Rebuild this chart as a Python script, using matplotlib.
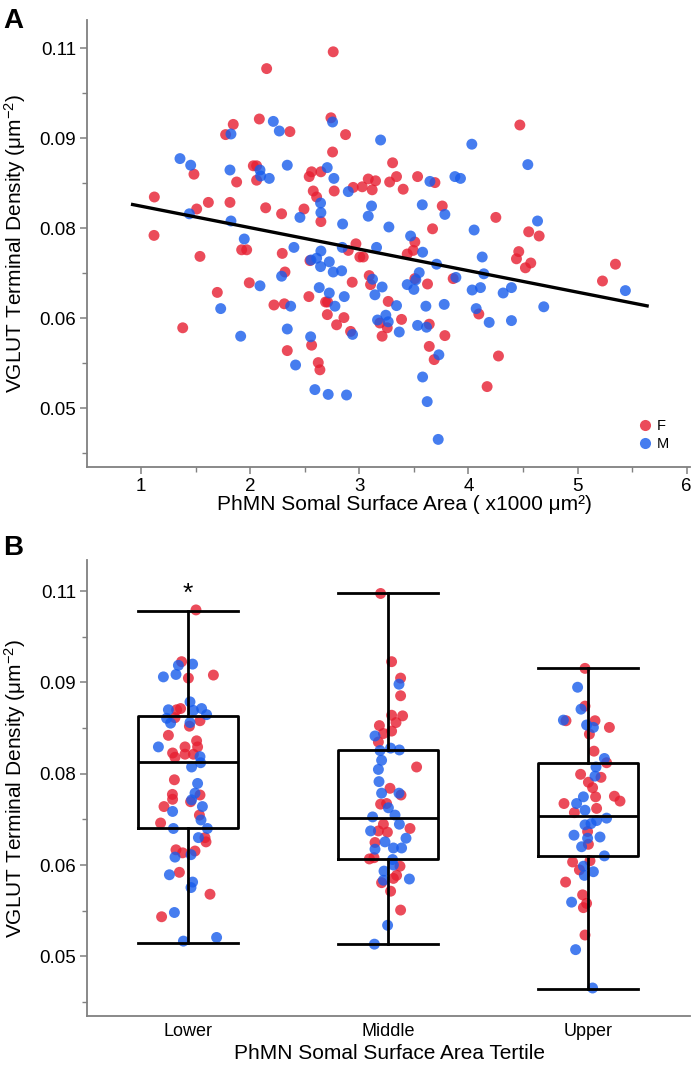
import matplotlib
matplotlib.use('Agg')
import matplotlib.pyplot as plt
from matplotlib.lines import Line2D
from matplotlib.ticker import FixedLocator

plt.rcParams['font.family'] = ['Liberation Sans', 'DejaVu Sans']
plt.rcParams['mathtext.fontset'] = 'custom'
plt.rcParams['mathtext.rm'] = 'Liberation Sans'
plt.rcParams['mathtext.it'] = 'Liberation Sans:italic'

# ---------------- data: panel A (scatter) ----------------
f_x = [2.761, 2.151, 1.845, 1.775, 2.084, 2.364, 2.740, 2.874, 1.485, 1.876, 2.029, 2.059, 2.059, 2.541,
       2.563, 2.648, 2.755, 2.578, 2.609, 2.648, 2.770, 1.122, 1.510, 1.617, 1.815, 2.142, 2.288, 2.493,
       4.471, 3.305, 3.534, 3.693, 3.082, 3.149, 2.944, 3.027, 3.118, 3.278, 3.341, 3.402, 3.760, 4.251,
       4.552, 4.648, 3.671,
       1.119, 1.540, 1.922, 1.968, 2.294, 2.548, 2.319, 1.992, 1.699, 2.538, 2.218, 2.313, 2.691, 2.709,
       2.707, 2.859, 2.792, 1.382, 2.340, 2.563, 2.624, 2.639,
       3.509, 3.494, 3.439, 2.969, 2.899, 3.005, 3.036, 4.461, 4.440, 4.571, 4.522, 5.347, 5.228, 2.935,
       3.091, 3.103, 3.265, 3.509, 3.625, 3.860, 4.095, 3.188, 3.387, 2.920, 3.256, 3.209, 3.641, 3.784,
       3.641, 3.686, 4.275, 4.171]
f_y = [0.1094, 0.1066, 0.0973, 0.0956, 0.0982, 0.0961, 0.0984, 0.0956, 0.0890, 0.0877, 0.0904, 0.0904,
       0.0880, 0.0886, 0.0894, 0.0894, 0.0927, 0.0862, 0.0852, 0.0811, 0.0862, 0.0852, 0.0832, 0.0843,
       0.0843, 0.0834, 0.0824, 0.0832,
       0.0972, 0.0909, 0.0886, 0.0876, 0.0882, 0.0879, 0.0868, 0.0869, 0.0864, 0.0877, 0.0886, 0.0865,
       0.0837, 0.0818, 0.0794, 0.0787, 0.0799,
       0.0788, 0.0753, 0.0764, 0.0764, 0.0758, 0.0746, 0.0727, 0.0709, 0.0693, 0.0686, 0.0672, 0.0674,
       0.0677, 0.0677, 0.0656, 0.0651, 0.0639, 0.0634, 0.0596, 0.0605, 0.0576, 0.0564,
       0.0777, 0.0763, 0.0757, 0.0774, 0.0763, 0.0752, 0.0752, 0.0761, 0.0749, 0.0742, 0.0734, 0.0740,
       0.0712, 0.0710, 0.0721, 0.0706, 0.0678, 0.0716, 0.0707, 0.0716, 0.0657, 0.0642, 0.0648, 0.0628,
       0.0634, 0.0620, 0.0640, 0.0621, 0.0603, 0.0581, 0.0587, 0.0536]
m_x = [1.824, 2.212, 2.267, 2.755, 1.357, 1.455, 1.815, 2.090, 2.096, 2.175, 2.340, 2.706, 2.767, 2.645,
       2.648, 2.847, 1.443, 1.824, 2.456, 2.899,
       3.195, 4.031, 4.544, 3.647, 3.876, 3.927, 3.112, 3.082, 3.577, 3.784, 4.633, 3.271, 4.052, 3.470,
       1.946, 2.401, 2.557, 2.609, 2.648, 2.645, 2.725, 2.761, 2.838, 2.288, 2.090, 2.633, 2.725, 2.862,
       2.371, 2.777, 1.730, 1.913, 2.340, 2.554, 2.416, 2.593, 2.715, 2.883,
       3.580, 3.158, 2.844, 4.126, 4.141, 5.438, 3.708, 3.549, 3.121, 3.209, 3.143, 3.341, 3.518, 3.439,
       3.500, 3.610, 3.778, 3.885, 4.034, 4.110, 4.318, 4.394, 4.690, 4.071, 4.190, 4.394, 3.167, 3.243,
       3.265, 2.938, 3.366, 3.534, 3.616, 3.729, 3.580, 3.622, 3.723]
m_y = [0.0957, 0.0978, 0.0962, 0.0977, 0.0916, 0.0905, 0.0897, 0.0897, 0.0887, 0.0883, 0.0905, 0.0901,
       0.0883, 0.0842, 0.0826, 0.0807, 0.0824, 0.0812, 0.0818, 0.0861,
       0.0947, 0.0940, 0.0906, 0.0878, 0.0886, 0.0883, 0.0837, 0.0820, 0.0839, 0.0823, 0.0812, 0.0802,
       0.0797, 0.0787,
       0.0782, 0.0768, 0.0747, 0.0750, 0.0762, 0.0736, 0.0744, 0.0727, 0.0729, 0.0720, 0.0704, 0.0701,
       0.0692, 0.0686, 0.0670, 0.0670, 0.0666, 0.0620, 0.0632, 0.0619, 0.0572, 0.0531, 0.0523, 0.0522,
       0.0760, 0.0768, 0.0768, 0.0752, 0.0724, 0.0696, 0.0740, 0.0726, 0.0715, 0.0702, 0.0689, 0.0671,
       0.0714, 0.0706, 0.0698, 0.0670, 0.0673, 0.0718, 0.0697, 0.0701, 0.0692, 0.0701, 0.0669, 0.0666,
       0.0643, 0.0646, 0.0647, 0.0655, 0.0644, 0.0623, 0.0627, 0.0638, 0.0635, 0.0589, 0.0552, 0.0511,
       0.0448]
fit_x = [0.908, 5.652]
fit_y = [0.0840, 0.0670]

y_ticks = [0.05, 0.065, 0.08, 0.095, 0.11]
y_ticklabels = ['0.05', '0.06', '0.08', '0.09', '0.11']
y_minor = [0.0425, 0.0575, 0.0725, 0.0875, 0.1025]
x_ticks = [1, 2, 3, 4, 5, 6]
x_minor = [1.5, 2.5, 3.5, 4.5, 5.5]

# ---------------- data: panel B (tertiles) ----------------
categories = ['Lower', 'Middle', 'Upper']
box_whislo = [0.0522, 0.0521, 0.0447]
box_q1 = [0.0710, 0.0660, 0.0665]
box_med = [0.0820, 0.0728, 0.0730]
box_q3 = [0.0895, 0.0839, 0.0817]
box_whishi = [0.1068, 0.1096, 0.0973]

low_f_dx = [0.04, -0.032, 0.002, 0.127, -0.057, -0.037, -0.065, 0.007, 0.06, -0.098, 0.043, 0.048, -0.015,
            -0.077, -0.015, -0.065, 0.027, -0.068, 0.06, -0.078, -0.077, -0.12, 0.013, 0.057, -0.137, 0.085,
            0.09, -0.06, -0.027, 0.035, -0.043, 0.11, -0.132]
low_f_y = [0.1069, 0.0984, 0.0957, 0.0962, 0.0905, 0.0907, 0.0892, 0.0878, 0.0887, 0.0863, 0.0854, 0.0844,
           0.0844, 0.0834, 0.0832, 0.0827, 0.0832, 0.0790, 0.0765, 0.0766, 0.0758, 0.0746, 0.0754, 0.0732,
           0.0719, 0.0695, 0.0688, 0.0675, 0.0670, 0.0673, 0.0638, 0.0602, 0.0565]
low_m_dx = [-0.048, 0.023, -0.123, -0.06, 0.01, -0.098, 0.027, 0.068, 0.093, -0.107, -0.087, 0.01, -0.148,
            0.06, 0.018, 0.063, 0.048, 0.035, 0.018, -0.077, 0.072, 0.065, 0.097, 0.052, -0.073, -0.065,
            0.015, -0.093, 0.023, 0.015, -0.068, -0.023, 0.143]
low_m_y = [0.0978, 0.0980, 0.0959, 0.0963, 0.0918, 0.0905, 0.0904, 0.0907, 0.0897, 0.0891, 0.0883, 0.0884,
           0.0844, 0.0828, 0.0811, 0.0818, 0.0784, 0.0768, 0.0757, 0.0738, 0.0746, 0.0724, 0.0710, 0.0695,
           0.0710, 0.0663, 0.0667, 0.0634, 0.0622, 0.0613, 0.0572, 0.0525, 0.0531]

mid_f_dx = [-0.037, 0.018, 0.063, 0.063, 0.018, 0.073, 0.04, -0.043, 0.018, -0.023, -0.048, 0.143, 0.01,
            0.065, -0.037, -0.007, -0.023, 0.11, -0.048, -0.003, -0.065, -0.093, -0.07, 0.06, 0.043, 0.027,
            -0.032, 0.013, 0.063]
mid_f_y = [0.1096, 0.0984, 0.0957, 0.0928, 0.0896, 0.0895, 0.0884, 0.0879, 0.0870, 0.0866, 0.0852, 0.0811,
           0.0776, 0.0765, 0.0750, 0.0751, 0.0717, 0.0710, 0.0706, 0.0704, 0.0687, 0.0660, 0.0662, 0.0648,
           0.0633, 0.0628, 0.0621, 0.0607, 0.0576]
mid_m_dx = [0.055, -0.065, 0.013, 0.057, -0.04, -0.032, -0.048, -0.045, -0.032, 0.055, 0.002, -0.077, 0.035,
            0.057, -0.087, 0.09, -0.015, -0.065, 0.027, 0.068, 0.023, 0.027, -0.02, -0.023, 0.107, -0.002,
            -0.068]
mid_m_y = [0.0947, 0.0862, 0.0842, 0.0839, 0.0838, 0.0822, 0.0807, 0.0787, 0.0768, 0.0768, 0.0744, 0.0729,
           0.0732, 0.0717, 0.0706, 0.0694, 0.0688, 0.0676, 0.0678, 0.0678, 0.0659, 0.0650, 0.0640, 0.0625,
           0.0627, 0.0551, 0.0520]

up_f_dx = [-0.015, -0.015, -0.11, 0.035, 0.107, 0.007, 0.03, 0.093, -0.037, 0.065, 0.002, 0.023, 0.038,
           0.132, 0.16, -0.12, 0.043, -0.068, -0.002, 0.002, -0.077, 0.01, -0.043, -0.112, -0.027, -0.007,
           -0.023, -0.015]
up_f_y = [0.0973, 0.0911, 0.0887, 0.0887, 0.0876, 0.0865, 0.0837, 0.0818, 0.0799, 0.0794, 0.0786, 0.0777,
          0.0762, 0.0763, 0.0755, 0.0751, 0.0743, 0.0736, 0.0705, 0.0684, 0.0655, 0.0657, 0.0642, 0.0622,
          0.0601, 0.0587, 0.0580, 0.0535]
up_m_dx = [-0.052, -0.035, -0.123, -0.007, 0.027, 0.082, 0.04, 0.035, -0.023, -0.057, -0.015, 0.093, 0.043,
           0.015, -0.015, -0.07, 0.06, -0.002, -0.032, 0.082, -0.023, 0.027, -0.018, -0.082, -0.062, 0.023]
up_m_y = [0.0942, 0.0906, 0.0888, 0.0880, 0.0876, 0.0825, 0.0811, 0.0796, 0.0762, 0.0751, 0.0740, 0.0727,
          0.0723, 0.0718, 0.0716, 0.0699, 0.0696, 0.0694, 0.0680, 0.0665, 0.0648, 0.0639, 0.0633, 0.0589,
          0.0511, 0.0448]

# ---------------- style ----------------
RED = '#E61E31'
BLUE = '#185CEC'
ALPHA = 0.8
GRAY = '#808080'
S = 62

fig = plt.figure(figsize=(7, 10.67), dpi=100)
axA = fig.add_axes([87 / 700, 1 - 467 / 1067, 603 / 700, 447 / 1067])
axB = fig.add_axes([87 / 700, 1 - 1016 / 1067, 603 / 700, 456 / 1067])


def style_axes(ax):
    for side in ['top', 'right']:
        ax.spines[side].set_visible(False)
    for side in ['left', 'bottom']:
        ax.spines[side].set_color(GRAY)
        ax.spines[side].set_linewidth(1.3)
    ax.tick_params(which='major', direction='out', length=5, width=1.1, color=GRAY,
                   labelsize=13.5, pad=3)
    ax.tick_params(which='minor', direction='out', length=3.5, width=1.0, color=GRAY)
    ax.set_yticks(y_ticks)
    ax.set_yticklabels(y_ticklabels)
    ax.yaxis.set_minor_locator(FixedLocator(y_minor))


# ---------------- panel A ----------------
axA.scatter(f_x, f_y, s=S, color=RED, alpha=ALPHA, edgecolors='none', zorder=2)
axA.scatter(m_x, m_y, s=S, color=BLUE, alpha=ALPHA, edgecolors='none', zorder=2)
axA.plot(fit_x, fit_y, color='black', lw=2.4, zorder=3, solid_capstyle='butt')
axA.set_xlim(0.505, 6.03)
axA.set_ylim(0.0402, 0.1147)
style_axes(axA)
axA.set_xticks(x_ticks)
axA.xaxis.set_minor_locator(FixedLocator(x_minor))
axA.set_xlabel('PhMN Somal Surface Area ( x1000 μm²)', fontsize=15)
axA.xaxis.set_label_coords(0.527, -0.062)
axA.set_ylabel('VGLUT Terminal Density (μm$^{-2}$)', fontsize=15)
axA.yaxis.set_label_coords(-0.098, 0.5)

handles = [Line2D([], [], marker='o', ls='', color=RED, alpha=ALPHA, markeredgewidth=0, markersize=8),
           Line2D([], [], marker='o', ls='', color=BLUE, alpha=ALPHA, markeredgewidth=0, markersize=8)]
axA.legend(handles, ['F', 'M'], loc='lower right', frameon=False, fontsize=10.5,
           handletextpad=0.2, labelspacing=0.3, borderpad=0, borderaxespad=0,
           handlelength=1.2, bbox_to_anchor=(0.965, 0.035))

# ---------------- panel B ----------------
groups = [(low_f_dx, low_f_y, low_m_dx, low_m_y),
          (mid_f_dx, mid_f_y, mid_m_dx, mid_m_y),
          (up_f_dx, up_f_y, up_m_dx, up_m_y)]
for pos, (fdx, fy, mdx, my) in enumerate(groups):
    axB.scatter([pos + d for d in fdx], fy, s=S, color=RED, alpha=ALPHA, edgecolors='none', zorder=2)
    axB.scatter([pos + d for d in mdx], my, s=S, color=BLUE, alpha=ALPHA, edgecolors='none', zorder=2)

stats = [dict(whislo=box_whislo[i], q1=box_q1[i], med=box_med[i], q3=box_q3[i],
              whishi=box_whishi[i], label=categories[i]) for i in range(3)]
lp = dict(color='black', linewidth=2.0)
axB.bxp(stats, positions=[0, 1, 2], widths=0.5, capwidths=0.5, showfliers=False,
        boxprops=lp, whiskerprops=lp, capprops=lp, medianprops=lp, zorder=3)

axB.set_xlim(-0.505, 2.51)
axB.set_ylim(0.0402, 0.1151)
style_axes(axB)
axB.set_xticks([0, 1, 2])
axB.set_xticklabels(categories)
axB.tick_params(axis='x', which='major', length=0, labelsize=13, pad=5)
axB.set_xlabel('PhMN Somal Surface Area Tertile', fontsize=15)
axB.xaxis.set_label_coords(0.502, -0.062)
axB.set_ylabel('VGLUT Terminal Density (μm$^{-2}$)', fontsize=15)
axB.yaxis.set_label_coords(-0.098, 0.5)
axB.text(0, 0.1084, '*', ha='center', va='baseline', fontsize=19)

fig.text(3 / 700, 1 - 28 / 1067, 'A', fontsize=20, fontweight='bold', va='baseline', ha='left')
fig.text(3 / 700, 1 - 555 / 1067, 'B', fontsize=20, fontweight='bold', va='baseline', ha='left')

fig.savefig('out.png', dpi=100)
